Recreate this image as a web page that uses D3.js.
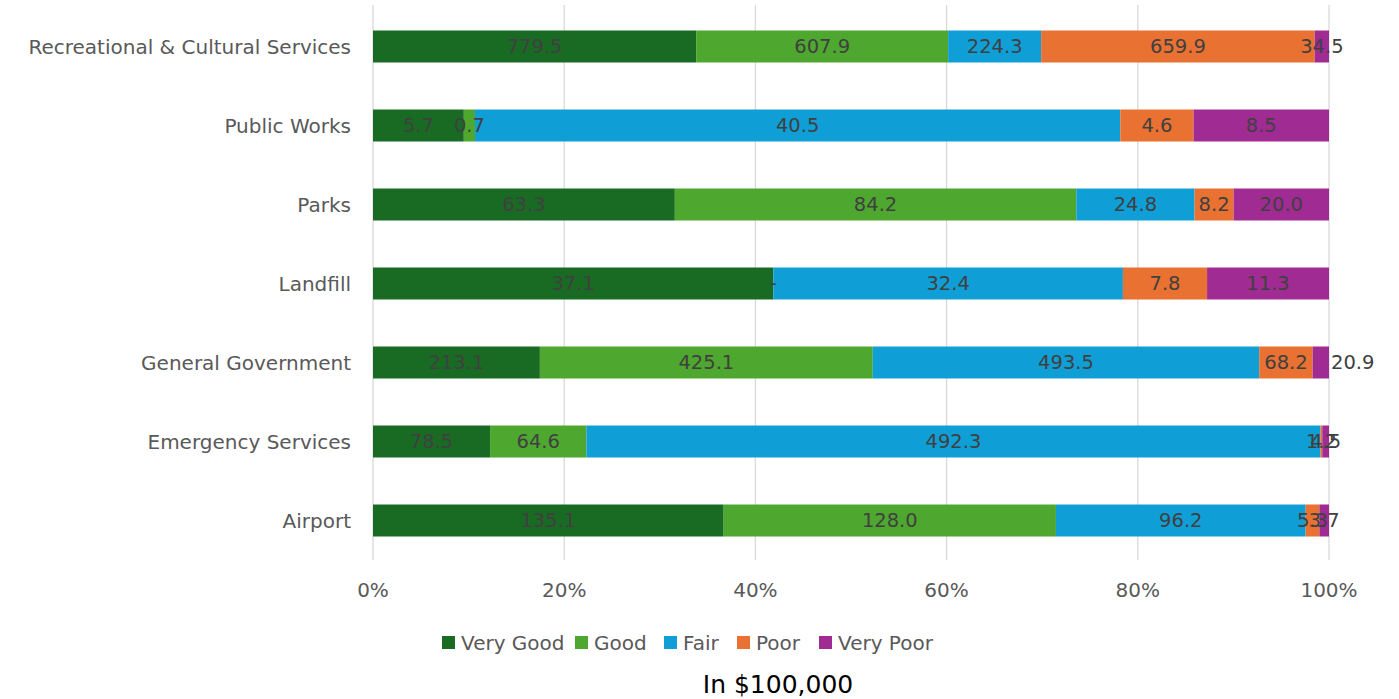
<!DOCTYPE html>
<html><head><meta charset="utf-8">
<script src="https://cdn.jsdelivr.net/npm/d3@7"></script>
<style>body{margin:0;background:#fff;} svg{display:block;}</style>
</head><body>
<svg id="chart" width="1399" height="699"></svg>
<script>
const categories = ["Recreational & Cultural Services","Public Works","Parks","Landfill","General Government","Emergency Services","Airport"];
const seriesNames = ["Very Good","Good","Fair","Poor","Very Poor"];
const veryGood = [779.5, 5.7, 63.3, 37.1, 213.1, 78.5, 135.1];
const good     = [607.9, 0.7, 84.2, 0,    425.1, 64.6, 128.0];
const fair     = [224.3, 40.5, 24.8, 32.4, 493.5, 492.3, 96.2];
const poor     = [659.9, 4.6, 8.2, 7.8,  68.2, 1.2,  5.3];
const veryPoor = [34.5, 8.5, 20.0, 11.3, 20.9, 4.5,  3.7];
const tickLabels = ["0%","20%","40%","60%","80%","100%"];
const colors = ["#196B24","#4EA72E","#0F9ED5","#E97132","#A02B93"];
const axisTitle = "In $100,000";

(function(){
const seriesValues = [veryGood, good, fair, poor, veryPoor];
const rows = categories.map((c,i)=>{
  const r = {category:c};
  seriesNames.forEach((s,j)=> r[s] = seriesValues[j][i]);
  r.total = d3.sum(seriesValues, v=>v[i]);
  return r;
});
const normRows = rows.map(r=>{
  const o = {category:r.category};
  seriesNames.forEach(s=> o[s] = r[s]/r.total);
  return o;
});
const stack = d3.stack().keys(seriesNames)(normRows);

const svg = d3.select("#chart");
const font = "'DejaVu Sans', sans-serif";
const pLeft = 373, pRight = 1329, pTop = 7, pBottom = 560;
const x = d3.scaleLinear().domain([0,1]).range([pLeft,pRight]);
const y = d3.scaleBand().domain(categories).range([pTop,pBottom]).paddingInner(0.595).paddingOuter(0.2975);

svg.append("g").selectAll("line").data(d3.range(0,1.0001,0.2)).join("line")
  .attr("x1",d=>x(d)).attr("x2",d=>x(d)).attr("y1",pTop-2).attr("y2",pBottom)
  .attr("stroke","#d9d9d9").attr("stroke-width",1.3);

const color = d3.scaleOrdinal().domain(seriesNames).range(colors);
const gs = svg.append("g").selectAll("g").data(stack).join("g").attr("fill",d=>color(d.key));
gs.selectAll("rect").data(d=>d).join("rect")
  .attr("x",d=>x(d[0])).attr("width",d=>x(d[1])-x(d[0]))
  .attr("y",d=>y(d.data.category)).attr("height",y.bandwidth());

const lab = svg.append("g").attr("font-family",font).attr("font-size",19.5).attr("fill","#404040");
stack.forEach((s,j)=>{
  s.forEach((d,i)=>{
    const raw = seriesValues[j][i];
    let cx = (x(d[0])+x(d[1]))/2, anchor="middle";
    if (categories[i]==="General Government" && s.key==="Very Poor") { cx = x(1)+2; anchor="start"; }
    lab.append("text").attr("x",cx).attr("y",y(categories[i])+y.bandwidth()/2)
      .attr("dy","0.35em").attr("text-anchor",anchor)
      .text(raw===0 ? "-" : d3.format(".1f")(raw));
  });
});

svg.append("g").attr("font-family",font).attr("font-size",20).attr("fill","#595959")
  .selectAll("text").data(categories).join("text")
  .attr("x",pLeft-22).attr("y",d=>y(d)+y.bandwidth()/2).attr("dy","0.35em")
  .attr("text-anchor","end").text(d=>d);

svg.append("g").attr("font-family",font).attr("font-size",20).attr("fill","#595959")
  .selectAll("text").data(tickLabels).join("text")
  .attr("x",(d,i)=>x(i*0.2)).attr("y",590).attr("dy","0.35em")
  .attr("text-anchor","middle").text(d=>d);

const legendX = [442, 575, 664, 737, 819];
const lg = svg.append("g").attr("font-family",font).attr("font-size",20).attr("fill","#595959");
seriesNames.forEach((s,j)=>{
  lg.append("rect").attr("x",legendX[j]).attr("y",636).attr("width",13).attr("height",13).attr("fill",colors[j]);
  lg.append("text").attr("x",legendX[j]+19).attr("y",643).attr("dy","0.35em").text(s);
});

svg.append("text").attr("x",778).attr("y",684).attr("dy","0.35em").attr("text-anchor","middle")
  .attr("font-family",font).attr("font-size",25).attr("fill","#000").text(axisTitle);
})();
</script>
</body></html>
